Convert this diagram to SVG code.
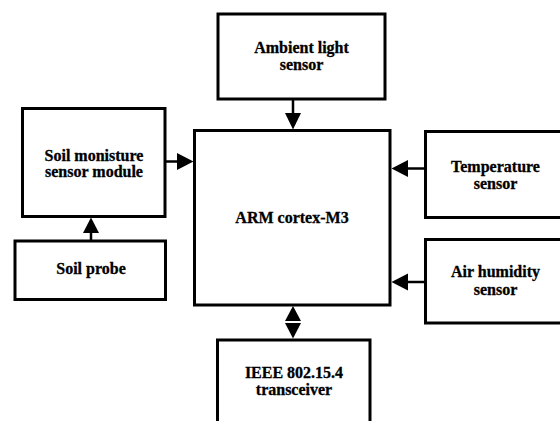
<svg xmlns="http://www.w3.org/2000/svg" width="560" height="421" viewBox="0 0 560 421">
<style>
.box{fill:#fff;stroke:#000;stroke-width:3}
.ln{stroke:#000;stroke-width:2.5;fill:none}
.hd{fill:#000;stroke:none}
.t{font-family:'Liberation Serif','DejaVu Serif',serif;font-size:16px;font-weight:bold;fill:#000;text-anchor:middle;stroke:#000;stroke-width:0.3}
</style>
<rect width="560" height="421" fill="#fff"/>
<g id="connectors">
<line class="ln" x1="293" y1="100" x2="293" y2="114"/>
<polygon class="hd" points="285,113 301,113 293,129.5"/>
<line class="ln" x1="166" y1="161.5" x2="178" y2="161.5"/>
<polygon class="hd" points="177,153 177,170 193.5,161.5"/>
<line class="ln" x1="424" y1="168.5" x2="407" y2="168.5"/>
<polygon class="hd" points="408,160 408,177 391.5,168.5"/>
<line class="ln" x1="424" y1="282" x2="407" y2="282"/>
<polygon class="hd" points="408,273.5 408,290.5 391.5,282"/>
<line class="ln" x1="91" y1="240" x2="91" y2="232"/>
<polygon class="hd" points="83,233 99,233 91,217.5"/>
<polygon class="hd" points="285,321 301,321 293,306"/>
<polygon class="hd" points="285,323 301,323 293,338.5"/>
</g>
<g id="ambient">
<rect class="box" x="218" y="14" width="167" height="85"/>
<text class="t" x="301.5" y="53">Ambient light</text>
<text class="t" x="301.5" y="70">sensor</text>
</g>
<g id="soilmodule">
<rect class="box" x="22.5" y="108.5" width="142.5" height="108"/>
<text class="t" x="94" y="161">Soil monisture</text>
<text class="t" x="94" y="177">sensor module</text>
</g>
<g id="arm">
<rect class="box" x="194.5" y="130.5" width="195.5" height="174.5"/>
<text class="t" x="292" y="223">ARM cortex-M3</text>
</g>
<g id="temperature">
<rect class="box" x="425.5" y="131.5" width="145" height="86"/>
<text class="t" x="495.5" y="172">Temperature</text>
<text class="t" x="495.5" y="189">sensor</text>
</g>
<g id="humidity">
<rect class="box" x="425.5" y="239.5" width="145" height="83.5"/>
<text class="t" x="495.5" y="277">Air humidity</text>
<text class="t" x="495.5" y="295">sensor</text>
</g>
<g id="soilprobe">
<rect class="box" x="15" y="241" width="150.5" height="58.5"/>
<text class="t" x="91" y="274">Soil probe</text>
</g>
<g id="ieee">
<rect class="box" x="217.5" y="340" width="152.5" height="100"/>
<text class="t" x="294" y="378">IEEE 802.15.4</text>
<text class="t" x="294" y="395">transceiver</text>
</g>
</svg>
